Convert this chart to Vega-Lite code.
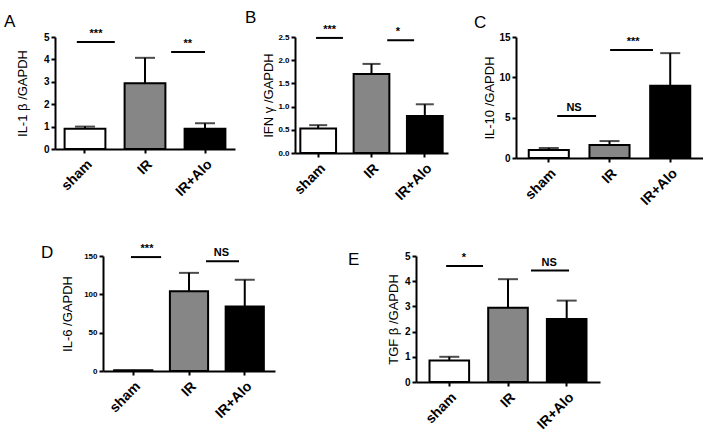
{
"$schema": "https://vega.github.io/schema/vega-lite/v6.json",
"autosize": {"type": "pad"},
"padding": {"left": 4, "top": 8, "right": 0, "bottom": 0},
"background": "white",
"datasets": {
 "bars": [
  {"panel":"A","group":"sham","mean":0.9,"upper":1.0},
  {"panel":"A","group":"IR","mean":2.93,"upper":4.07},
  {"panel":"A","group":"IR+Alo","mean":0.9,"upper":1.15},
  {"panel":"B","group":"sham","mean":0.53,"upper":0.6},
  {"panel":"B","group":"IR","mean":1.7,"upper":1.92},
  {"panel":"B","group":"IR+Alo","mean":0.8,"upper":1.05},
  {"panel":"C","group":"sham","mean":1.0,"upper":1.25},
  {"panel":"C","group":"IR","mean":1.6,"upper":2.1},
  {"panel":"C","group":"IR+Alo","mean":8.95,"upper":13.0},
  {"panel":"D","group":"sham","mean":1.0,"upper":1.5},
  {"panel":"D","group":"IR","mean":104,"upper":128},
  {"panel":"D","group":"IR+Alo","mean":84,"upper":119},
  {"panel":"E","group":"sham","mean":0.85,"upper":1.0},
  {"panel":"E","group":"IR","mean":2.95,"upper":4.08},
  {"panel":"E","group":"IR+Alo","mean":2.5,"upper":3.23}
 ],
 "sig": [
  {"panel":"A","from":"sham","to":"IR","y":4.78,"label":"***"},
  {"panel":"A","from":"IR","to":"IR+Alo","y":4.33,"label":"**"},
  {"panel":"B","from":"sham","to":"IR","y":2.48,"label":"***"},
  {"panel":"B","from":"IR","to":"IR+Alo","y":2.43,"label":"*"},
  {"panel":"C","from":"sham","to":"IR","y":5.2,"label":"NS"},
  {"panel":"C","from":"IR","to":"IR+Alo","y":13.4,"label":"***"},
  {"panel":"D","from":"sham","to":"IR","y":148.6,"label":"***"},
  {"panel":"D","from":"IR","to":"IR+Alo","y":143,"label":"NS"},
  {"panel":"E","from":"sham","to":"IR","y":4.6,"label":"*"},
  {"panel":"E","from":"IR","to":"IR+Alo","y":4.42,"label":"NS"}
 ]
},
"bounds": "flush",
"spacing": 219,
"vconcat": [
 {
  "bounds": "flush",
  "spacing": 0,
  "hconcat": [
 {
  "title": {"text": "A", "dx": -51, "dy": 7},
  "width": 180, "height": 112,
  "resolve": {"axis": {"x": "independent", "y": "independent"}},
  "layer": [
   {"data": {"name": "bars"}, "transform": [{"filter": "datum.panel==='A'"}],
    "mark": {"type": "bar", "stroke": "black", "strokeWidth": 2},
    "encoding": {
     "x": {"field": "group", "type": "nominal", "scale": {"domain": ["sham","IR","IR+Alo"], "paddingInner": 0.32, "paddingOuter": 0.16}, "axis": {"title": null}},
     "y": {"field": "mean", "type": "quantitative", "scale": {"domain": [0,5], "nice": false}, "axis": {"title": "IL-1 β /GAPDH", "values": [0,1,2,3,4,5], "labelOverlap": false, "labelFontSize": 10, "titleX": -26}},
     "fill": {"field": "group", "type": "nominal", "scale": {"domain": ["sham","IR","IR+Alo"], "range": ["white","#868686","black"]}, "legend": null}
    }},
   {"data": {"name": "bars"}, "transform": [{"filter": "datum.panel==='A'"}],
    "mark": {"type": "rule", "color": "black", "strokeWidth": 2},
    "encoding": {"x": {"field": "group", "type": "nominal", "axis": null}, "y": {"field": "mean", "type": "quantitative", "axis": null}, "y2": {"field": "upper"}}},
   {"data": {"name": "bars"}, "transform": [{"filter": "datum.panel==='A'"}],
    "mark": {"type": "tick", "orient": "horizontal", "size": 20, "thickness": 2, "color": "black"},
    "encoding": {"x": {"field": "group", "type": "nominal", "axis": null}, "y": {"field": "upper", "type": "quantitative", "axis": null}}},
   {"data": {"name": "sig"}, "transform": [{"filter": "datum.panel==='A' && datum.from==='sham'"}],
    "mark": {"type": "rule", "color": "black", "strokeWidth": 2},
    "encoding": {"x": {"field": "from", "type": "nominal", "bandPosition": 0.30, "axis": null}, "x2": {"field": "to", "bandPosition": -0.24}, "y": {"field": "y", "type": "quantitative", "axis": null}}},
   {"data": {"name": "sig"}, "transform": [{"filter": "datum.panel==='A' && datum.from==='IR'"}],
    "mark": {"type": "rule", "color": "black", "strokeWidth": 2},
    "encoding": {"x": {"field": "from", "type": "nominal", "bandPosition": 1.14, "axis": null}, "x2": {"field": "to", "bandPosition": 0.5}, "y": {"field": "y", "type": "quantitative", "axis": null}}},
   {"data": {"name": "sig"}, "transform": [{"filter": "datum.panel==='A' && datum.from==='sham'"}],
    "mark": {"type": "text", "fontWeight": "bold", "fontSize": 11, "baseline": "alphabetic", "dy": -5},
    "encoding": {"x": {"field": "from", "type": "nominal", "bandPosition": 0.77, "axis": null}, "y": {"field": "y", "type": "quantitative", "axis": null}, "text": {"field": "label"}}},
   {"data": {"name": "sig"}, "transform": [{"filter": "datum.panel==='A' && datum.from==='IR'"}],
    "mark": {"type": "text", "fontWeight": "bold", "fontSize": 11, "baseline": "alphabetic", "dy": -5},
    "encoding": {"x": {"field": "from", "type": "nominal", "bandPosition": 1.55, "axis": null}, "y": {"field": "y", "type": "quantitative", "axis": null}, "text": {"field": "label"}}}
  ]
 },
 {"width": 60, "height": 10, "data": {"values": []}, "mark": "point"},
 {
  "title": {"text": "B", "dx": -50, "dy": 7},
  "width": 153, "height": 116,
  "resolve": {"axis": {"x": "independent", "y": "independent"}},
  "layer": [
   {"data": {"name": "bars"}, "transform": [{"filter": "datum.panel==='B'"}],
    "mark": {"type": "bar", "stroke": "black", "strokeWidth": 2},
    "encoding": {
     "x": {"field": "group", "type": "nominal", "scale": {"domain": ["sham","IR","IR+Alo"], "paddingInner": 0.33, "paddingOuter": 0.10}, "axis": {"title": null}},
     "y": {"field": "mean", "type": "quantitative", "scale": {"domain": [0,2.5], "nice": false}, "axis": {"title": "IFN γ /GAPDH", "values": [0,0.5,1,1.5,2,2.5], "format": ".1f", "labelOverlap": false, "labelFontSize": 8, "titleX": -20}},
     "fill": {"field": "group", "type": "nominal", "scale": {"domain": ["sham","IR","IR+Alo"], "range": ["white","#868686","black"]}, "legend": null}
    }},
   {"data": {"name": "bars"}, "transform": [{"filter": "datum.panel==='B'"}],
    "mark": {"type": "rule", "color": "black", "strokeWidth": 2},
    "encoding": {"x": {"field": "group", "type": "nominal", "axis": null}, "y": {"field": "mean", "type": "quantitative", "axis": null}, "y2": {"field": "upper"}}},
   {"data": {"name": "bars"}, "transform": [{"filter": "datum.panel==='B'"}],
    "mark": {"type": "tick", "orient": "horizontal", "size": 18, "thickness": 2, "color": "black"},
    "encoding": {"x": {"field": "group", "type": "nominal", "axis": null}, "y": {"field": "upper", "type": "quantitative", "axis": null}}},
   {"data": {"name": "sig"}, "transform": [{"filter": "datum.panel==='B' && datum.from==='sham'"}],
    "mark": {"type": "rule", "color": "black", "strokeWidth": 2},
    "encoding": {"x": {"field": "from", "type": "nominal", "bandPosition": 0.44, "axis": null}, "x2": {"field": "to", "bandPosition": -0.30}, "y": {"field": "y", "type": "quantitative", "axis": null}}},
   {"data": {"name": "sig"}, "transform": [{"filter": "datum.panel==='B' && datum.from==='IR'"}],
    "mark": {"type": "rule", "color": "black", "strokeWidth": 2},
    "encoding": {"x": {"field": "from", "type": "nominal", "bandPosition": 0.94, "axis": null}, "x2": {"field": "to", "bandPosition": 0.20}, "y": {"field": "y", "type": "quantitative", "axis": null}}},
   {"data": {"name": "sig"}, "transform": [{"filter": "datum.panel==='B' && datum.from==='sham'"}],
    "mark": {"type": "text", "fontWeight": "bold", "fontSize": 11, "baseline": "alphabetic", "dy": -5},
    "encoding": {"x": {"field": "from", "type": "nominal", "bandPosition": 0.82, "axis": null}, "y": {"field": "y", "type": "quantitative", "axis": null}, "text": {"field": "label"}}},
   {"data": {"name": "sig"}, "transform": [{"filter": "datum.panel==='B' && datum.from==='IR'"}],
    "mark": {"type": "text", "fontWeight": "bold", "fontSize": 11, "baseline": "alphabetic", "dy": -5},
    "encoding": {"x": {"field": "from", "type": "nominal", "bandPosition": 1.24, "axis": null}, "y": {"field": "y", "type": "quantitative", "axis": null}, "text": {"field": "label"}}}
  ]
 },
 {"width": 68, "height": 10, "data": {"values": []}, "mark": "point"},
 {
  "title": {"text": "C", "dx": -42, "dy": 4},
  "width": 187, "height": 121,
  "resolve": {"axis": {"x": "independent", "y": "independent"}},
  "layer": [
   {"data": {"name": "bars"}, "transform": [{"filter": "datum.panel==='C'"}],
    "mark": {"type": "bar", "stroke": "black", "strokeWidth": 2},
    "encoding": {
     "x": {"field": "group", "type": "nominal", "scale": {"domain": ["sham","IR","IR+Alo"], "paddingInner": 0.34, "paddingOuter": 0.21}, "axis": {"title": null}},
     "y": {"field": "mean", "type": "quantitative", "scale": {"domain": [0,15], "nice": false}, "axis": {"title": "IL-10 /GAPDH", "values": [0,5,10,15], "labelOverlap": false, "labelFontSize": 10, "titleX": -20}},
     "fill": {"field": "group", "type": "nominal", "scale": {"domain": ["sham","IR","IR+Alo"], "range": ["white","#868686","black"]}, "legend": null}
    }},
   {"data": {"name": "bars"}, "transform": [{"filter": "datum.panel==='C'"}],
    "mark": {"type": "rule", "color": "black", "strokeWidth": 2},
    "encoding": {"x": {"field": "group", "type": "nominal", "axis": null}, "y": {"field": "mean", "type": "quantitative", "axis": null}, "y2": {"field": "upper"}}},
   {"data": {"name": "bars"}, "transform": [{"filter": "datum.panel==='C'"}],
    "mark": {"type": "tick", "orient": "horizontal", "size": 20, "thickness": 2, "color": "black"},
    "encoding": {"x": {"field": "group", "type": "nominal", "axis": null}, "y": {"field": "upper", "type": "quantitative", "axis": null}}},
   {"data": {"name": "sig"}, "transform": [{"filter": "datum.panel==='C' && datum.from==='sham'"}],
    "mark": {"type": "rule", "color": "black", "strokeWidth": 2},
    "encoding": {"x": {"field": "from", "type": "nominal", "bandPosition": 0.71, "axis": null}, "x2": {"field": "to", "bandPosition": 0.165}, "y": {"field": "y", "type": "quantitative", "axis": null}}},
   {"data": {"name": "sig"}, "transform": [{"filter": "datum.panel==='C' && datum.from==='IR'"}],
    "mark": {"type": "rule", "color": "black", "strokeWidth": 2},
    "encoding": {"x": {"field": "from", "type": "nominal", "bandPosition": 0.515, "axis": null}, "x2": {"field": "to", "bandPosition": 0.07}, "y": {"field": "y", "type": "quantitative", "axis": null}}},
   {"data": {"name": "sig"}, "transform": [{"filter": "datum.panel==='C' && datum.from==='sham'"}],
    "mark": {"type": "text", "fontWeight": "bold", "fontSize": 11, "baseline": "alphabetic", "dy": -5},
    "encoding": {"x": {"field": "from", "type": "nominal", "bandPosition": 1.13, "axis": null}, "y": {"field": "y", "type": "quantitative", "axis": null}, "text": {"field": "label"}}},
   {"data": {"name": "sig"}, "transform": [{"filter": "datum.panel==='C' && datum.from==='IR'"}],
    "mark": {"type": "text", "fontWeight": "bold", "fontSize": 11, "baseline": "alphabetic", "dy": -5},
    "encoding": {"x": {"field": "from", "type": "nominal", "bandPosition": 1.09, "axis": null}, "y": {"field": "y", "type": "quantitative", "axis": null}, "text": {"field": "label"}}}
  ]
 }
  ]
 },
 {
  "bounds": "flush",
  "spacing": 0,
  "hconcat": [
 {"width": 48, "height": 10, "data": {"values": []}, "mark": "point"},
 {
  "title": {"text": "D", "dx": -62, "dy": 23},
  "width": 172, "height": 115,
  "resolve": {"axis": {"x": "independent", "y": "independent"}},
  "layer": [
   {"data": {"name": "bars"}, "transform": [{"filter": "datum.panel==='D'"}],
    "mark": {"type": "bar", "stroke": "black", "strokeWidth": 2},
    "encoding": {
     "x": {"field": "group", "type": "nominal", "scale": {"domain": ["sham","IR","IR+Alo"], "paddingInner": 0.315, "paddingOuter": 0.2}, "axis": {"title": null}},
     "y": {"field": "mean", "type": "quantitative", "scale": {"domain": [0,150], "nice": false}, "axis": {"title": "IL-6 /GAPDH", "values": [0,50,100,150], "labelOverlap": false, "labelFontSize": 8, "titleX": -29}},
     "fill": {"field": "group", "type": "nominal", "scale": {"domain": ["sham","IR","IR+Alo"], "range": ["white","#868686","black"]}, "legend": null}
    }},
   {"data": {"name": "bars"}, "transform": [{"filter": "datum.panel==='D'"}],
    "mark": {"type": "rule", "color": "black", "strokeWidth": 2},
    "encoding": {"x": {"field": "group", "type": "nominal", "axis": null}, "y": {"field": "mean", "type": "quantitative", "axis": null}, "y2": {"field": "upper"}}},
   {"data": {"name": "bars"}, "transform": [{"filter": "datum.panel==='D' && datum.group!=='sham'"}],
    "mark": {"type": "tick", "orient": "horizontal", "size": 20, "thickness": 2, "color": "black"},
    "encoding": {"x": {"field": "group", "type": "nominal", "axis": null}, "y": {"field": "upper", "type": "quantitative", "axis": null}}},
   {"data": {"name": "sig"}, "transform": [{"filter": "datum.panel==='D' && datum.from==='sham'"}],
    "mark": {"type": "rule", "color": "black", "strokeWidth": 2},
    "encoding": {"x": {"field": "from", "type": "nominal", "bandPosition": 0.44, "axis": null}, "x2": {"field": "to", "bandPosition": -0.23}, "y": {"field": "y", "type": "quantitative", "axis": null}}},
   {"data": {"name": "sig"}, "transform": [{"filter": "datum.panel==='D' && datum.from==='IR'"}],
    "mark": {"type": "rule", "color": "black", "strokeWidth": 2},
    "encoding": {"x": {"field": "from", "type": "nominal", "bandPosition": 0.945, "axis": null}, "x2": {"field": "to", "bandPosition": 0.35}, "y": {"field": "y", "type": "quantitative", "axis": null}}},
   {"data": {"name": "sig"}, "transform": [{"filter": "datum.panel==='D' && datum.from==='sham'"}],
    "mark": {"type": "text", "fontWeight": "bold", "fontSize": 11, "baseline": "alphabetic", "dy": -5},
    "encoding": {"x": {"field": "from", "type": "nominal", "bandPosition": 0.86, "axis": null}, "y": {"field": "y", "type": "quantitative", "axis": null}, "text": {"field": "label"}}},
   {"data": {"name": "sig"}, "transform": [{"filter": "datum.panel==='D' && datum.from==='IR'"}],
    "mark": {"type": "text", "fontWeight": "bold", "fontSize": 11, "baseline": "alphabetic", "dy": -5},
    "encoding": {"x": {"field": "from", "type": "nominal", "bandPosition": 1.35, "axis": null}, "y": {"field": "y", "type": "quantitative", "axis": null}, "text": {"field": "label"}}}
  ]
 },
 {"width": 141, "height": 10, "data": {"values": []}, "mark": "point"},
 {
  "title": {"text": "E", "dx": -68, "dy": 22},
  "width": 184, "height": 126,
  "resolve": {"axis": {"x": "independent", "y": "independent"}},
  "layer": [
   {"data": {"name": "bars"}, "transform": [{"filter": "datum.panel==='E'"}],
    "mark": {"type": "bar", "stroke": "black", "strokeWidth": 2},
    "encoding": {
     "x": {"field": "group", "type": "nominal", "scale": {"domain": ["sham","IR","IR+Alo"], "paddingInner": 0.325, "paddingOuter": 0.23}, "axis": {"title": null}},
     "y": {"field": "mean", "type": "quantitative", "scale": {"domain": [0,5], "nice": false}, "axis": {"title": "TGF β /GAPDH", "values": [0,1,2,3,4,5], "labelOverlap": false, "labelFontSize": 10, "titleX": -16}},
     "fill": {"field": "group", "type": "nominal", "scale": {"domain": ["sham","IR","IR+Alo"], "range": ["white","#868686","black"]}, "legend": null}
    }},
   {"data": {"name": "bars"}, "transform": [{"filter": "datum.panel==='E'"}],
    "mark": {"type": "rule", "color": "black", "strokeWidth": 2},
    "encoding": {"x": {"field": "group", "type": "nominal", "axis": null}, "y": {"field": "mean", "type": "quantitative", "axis": null}, "y2": {"field": "upper"}}},
   {"data": {"name": "bars"}, "transform": [{"filter": "datum.panel==='E'"}],
    "mark": {"type": "tick", "orient": "horizontal", "size": 20, "thickness": 2, "color": "black"},
    "encoding": {"x": {"field": "group", "type": "nominal", "axis": null}, "y": {"field": "upper", "type": "quantitative", "axis": null}}},
   {"data": {"name": "sig"}, "transform": [{"filter": "datum.panel==='E' && datum.from==='sham'"}],
    "mark": {"type": "rule", "color": "black", "strokeWidth": 2},
    "encoding": {"x": {"field": "from", "type": "nominal", "bandPosition": 0.42, "axis": null}, "x2": {"field": "to", "bandPosition": -0.13}, "y": {"field": "y", "type": "quantitative", "axis": null}}},
   {"data": {"name": "sig"}, "transform": [{"filter": "datum.panel==='E' && datum.from==='IR'"}],
    "mark": {"type": "rule", "color": "black", "strokeWidth": 2},
    "encoding": {"x": {"field": "from", "type": "nominal", "bandPosition": 1.08, "axis": null}, "x2": {"field": "to", "bandPosition": 0.56}, "y": {"field": "y", "type": "quantitative", "axis": null}}},
   {"data": {"name": "sig"}, "transform": [{"filter": "datum.panel==='E' && datum.from==='sham'"}],
    "mark": {"type": "text", "fontWeight": "bold", "fontSize": 11, "baseline": "alphabetic", "dy": -5},
    "encoding": {"x": {"field": "from", "type": "nominal", "bandPosition": 0.87, "axis": null}, "y": {"field": "y", "type": "quantitative", "axis": null}, "text": {"field": "label"}}},
   {"data": {"name": "sig"}, "transform": [{"filter": "datum.panel==='E' && datum.from==='IR'"}],
    "mark": {"type": "text", "fontWeight": "bold", "fontSize": 11, "baseline": "alphabetic", "dy": -5},
    "encoding": {"x": {"field": "from", "type": "nominal", "bandPosition": 1.54, "axis": null}, "y": {"field": "y", "type": "quantitative", "axis": null}, "text": {"field": "label"}}}
  ]
 }
  ]
 }
],
"config": {
 "view": {"stroke": null},
 "font": "Liberation Sans",
 "text": {"font": "Liberation Sans", "color": "black"},
 "axis": {"domainColor": "black", "domainWidth": 2, "tickColor": "black", "tickWidth": 2, "tickSize": 4, "labelColor": "black", "labelFont": "Liberation Sans", "labelFontWeight": "bold", "labelOverlap": false, "titleColor": "black", "titleFont": "Liberation Sans", "titleFontWeight": "normal", "titleFontSize": 13, "grid": false, "labelPadding": 2},
 "axisX": {"labelAngle": -45, "labelFontSize": 14, "labelPadding": 4},
 "axisY": {"titlePadding": 4},
 "title": {"font": "Liberation Sans", "fontSize": 17, "fontWeight": "normal", "anchor": "start", "frame": "group", "color": "black"}
}
}
